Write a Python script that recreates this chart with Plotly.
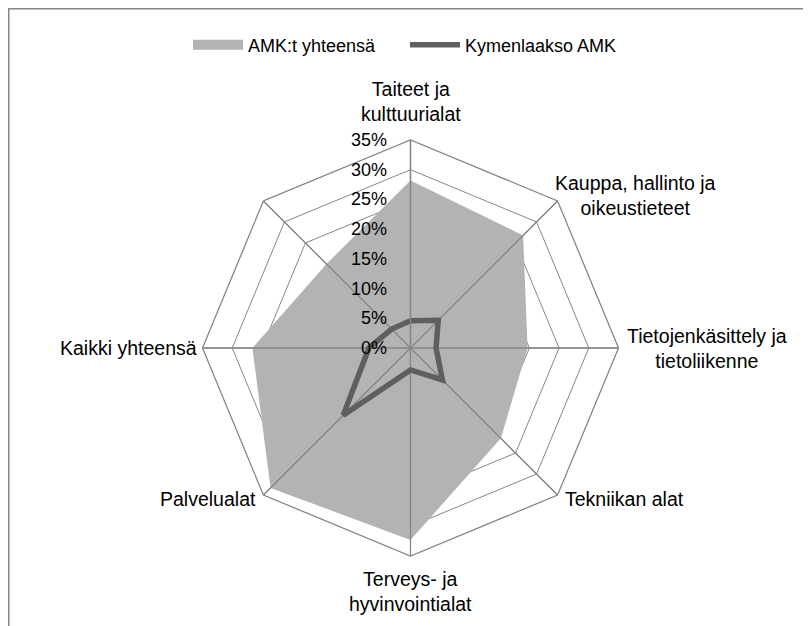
import math
import plotly.graph_objects as go

categories = [
    "Taiteet ja<br>kulttuurialat",
    "Kauppa, hallinto ja<br>oikeustieteet",
    "Tietojenkäsittely ja<br>tietoliikenne",
    "Tekniikan alat",
    "Terveys- ja<br>hyvinvointialat",
    "Palvelualat",
    "Kaikki yhteensä",
    " ",
]
amk_total = [28.2, 26.8, 19.7, 21.5, 32.3, 33.3, 26.6, 20.0]
kymenlaakso = [4.6, 6.6, 4.3, 7.6, 3.7, 16.0, 7.0, 4.5]
radial_ticks = [0, 5, 10, 15, 20, 25, 30, 35]
series_names = ["AMK:t yhteensä", "Kymenlaakso AMK"]

FONT = "Liberation Sans"
GRID = "#868686"
FILL = "#B3B3B3"
DARK = "#5F5F5F"
# page has an 8px body margin, so the figure is slightly smaller than the window
W, H = 803, 618
OFF = 8
cx, cy, R = 410.5 - OFF, 348.0 - OFF, 208.0
rmax = radial_ticks[-1]


def px(x):
    return x / W


def py(y):
    return 1 - y / H


fig = go.Figure()
fig.add_trace(go.Scatterpolar(
    r=amk_total, theta=categories, name=series_names[0],
    mode="lines", fill="toself", fillcolor=FILL,
    line=dict(color=FILL, width=0), showlegend=False, legendgroup="amk",
))
# legend entry for the area series (thick bar like the original box symbol)
fig.add_trace(go.Scatterpolar(
    r=[None], theta=[categories[0]], name=series_names[0], mode="lines",
    line=dict(color=FILL, width=12), legendgroup="amk", hoverinfo="skip",
))
# spokes drawn above the filled area (as in the original)
for c in categories:
    fig.add_trace(go.Scatterpolar(
        r=[radial_ticks[0], rmax], theta=[c, c], mode="lines",
        line=dict(color=GRID, width=1.3), showlegend=False, hoverinfo="skip",
    ))
fig.add_trace(go.Scatterpolar(
    r=kymenlaakso + kymenlaakso[:1], theta=categories + categories[:1],
    name=series_names[1], mode="lines",
    line=dict(color=DARK, width=5.5),
))

annotations = []
# category labels, centred text blocks around the outer polygon
n = len(categories)
for i, c in enumerate(categories):
    if not c.strip():
        continue
    ang = math.radians(90 - 360 * i / n)
    ca, sa = math.cos(ang), math.sin(ang)
    vx, vy = cx + R * ca, cy - R * sa
    if abs(ca) < 0.3:
        xa = "center"
        ya = "bottom" if sa > 0 else "top"
        x, y = vx, vy - (13 if sa > 0 else -10)
    else:
        xa = "left" if ca > 0 else "right"
        ya = "middle"
        if abs(sa) < 0.3:
            x = vx + (6 if ca > 0 else -4)
            y = vy
        elif sa > 0:
            x = vx + (-5 if ca > 0 else 5)
            y = vy - 5
        else:
            x = vx + (5 if ca > 0 else -5)
            y = vy + 4
    annotations.append(dict(
        text=c, x=px(x), y=py(y), xref="paper", yref="paper",
        xanchor=xa, yanchor=ya, align="center", showarrow=False,
        font=dict(family=FONT, size=19.5, color="black"),
    ))
# radial tick labels, horizontal, left of the vertical axis
for v in radial_ticks:
    annotations.append(dict(
        text=f"{v}%", x=px(cx - 22), y=py(cy - v / rmax * R), xref="paper", yref="paper",
        xanchor="right", yanchor="middle", showarrow=False,
        font=dict(family=FONT, size=18, color="black"),
    ))

fig.update_layout(
    width=W, height=H,
    margin=dict(l=0, r=0, t=0, b=0),
    paper_bgcolor="white", plot_bgcolor="white",
    font=dict(family=FONT, size=18, color="black"),
    showlegend=True,
    legend=dict(orientation="h", x=px(405 - OFF), xanchor="center",
                y=py(45 - OFF), yanchor="middle",
                font=dict(family=FONT, size=18, color="black"), itemwidth=50,
                entrywidth=152, entrywidthmode="pixels",
                bgcolor="rgba(0,0,0,0)"),
    polar=dict(
        domain=dict(x=[px(cx - R), px(cx + R)], y=[py(cy + R), py(cy - R)]),
        bgcolor="white",
        gridshape="linear",
        angularaxis=dict(
            rotation=90, direction="clockwise", type="category",
            categoryarray=categories, categoryorder="array",
            showgrid=True, gridcolor=GRID, gridwidth=1.3,
            showline=True, linecolor=GRID, linewidth=1.3,
            ticks="", showticklabels=False,
        ),
        radialaxis=dict(
            range=[radial_ticks[0], rmax], tickvals=radial_ticks,
            angle=90, showticklabels=False,
            showgrid=True, gridcolor=GRID, gridwidth=1.3,
            showline=True, linecolor=GRID, linewidth=1.3,
            ticks="",
        ),
    ),
    annotations=annotations,
    shapes=[dict(type="rect", xref="paper", yref="paper",
                 x0=0.75 / W, x1=1.2, y0=-0.2, y1=1 - 0.75 / H,
                 line=dict(color=GRID, width=1.5), fillcolor="rgba(0,0,0,0)", layer="below")],
)

fig.write_html("out.html")
